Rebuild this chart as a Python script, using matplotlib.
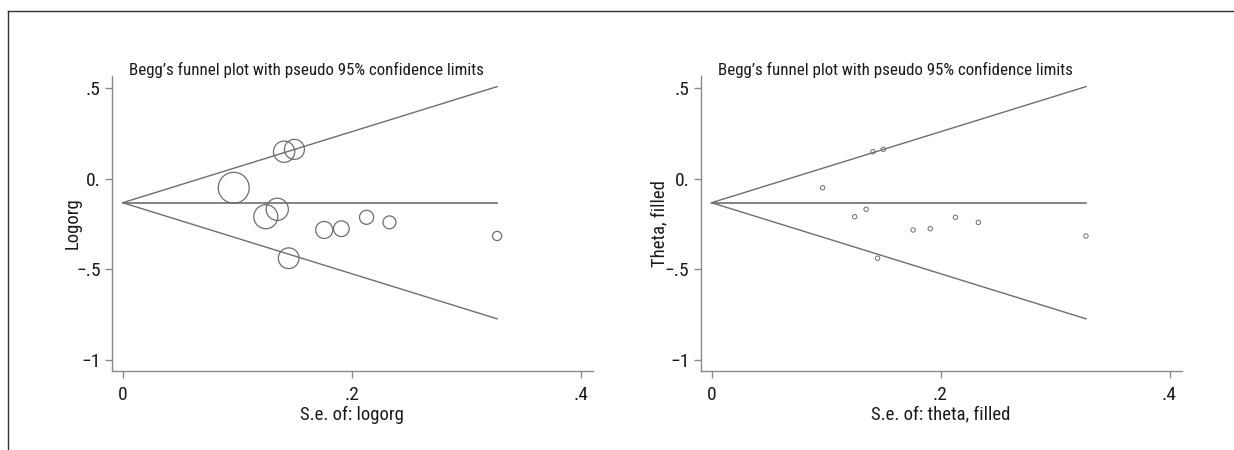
import matplotlib
matplotlib.use("Agg")
import matplotlib.pyplot as plt
from matplotlib.lines import Line2D
from matplotlib import font_manager
import numpy as np

# study-level data
se = [0.141, 0.150, 0.097, 0.135, 0.125, 0.176, 0.191, 0.213, 0.233, 0.145, 0.327]
logor = [0.148, 0.161, -0.051, -0.170, -0.211, -0.284, -0.277, -0.214, -0.242, -0.440, -0.317]
pooled = -0.1335

xticks = [0, 0.2, 0.4]
xticklabels = ["0", ".2", ".4"]
yticks = [0.5, 0, -0.5, -1]
yticklabels = [".5", "0.", "\u2212.5", "\u22121"]

titles = ["Begg\u2019s funnel plot with pseudo 95% confidence limits"] * 2
ylabels = ["Logorg", "Theta, filled"]
xlabels = ["S.e. of: logorg", "S.e. of: theta, filled"]

# pick a narrow face if one is around, else plain Liberation Sans a bit smaller
names = set(f.name for f in font_manager.fontManager.ttflist)
narrow = None
for n in ["Liberation Sans Narrow", "DejaVu Sans Condensed", "Roboto Condensed", "Open Sans Condensed"]:
    if n in names:
        narrow = n
        break
if narrow:
    plt.rcParams["font.family"] = [narrow, "DejaVu Sans"]
    fs_title, fs_lab, fs_tick = 12.2, 13.5, 14
else:
    plt.rcParams["font.family"] = ["Liberation Sans", "DejaVu Sans"]
    fs_title, fs_lab, fs_tick = 10.6, 11, 11.5

fig = plt.figure(figsize=(12.34, 4.5), dpi=100)

linecol = "#6e6e6e"
axcol = "#8a8a8a"
txtcol = "#1a1a1a"

lefts = [0.0905, 0.5677]
ylab_x = [-0.062, -0.066]

for k in range(2):
    ax = fig.add_axes([lefts[k], 0.1762, 0.390, 0.6549])

    se_max = max(se)
    xs = np.array([0, se_max])
    ax.plot(xs, pooled + 1.96 * xs, color=linecol, lw=1.0)
    ax.plot(xs, pooled - 1.96 * xs, color=linecol, lw=1.0)
    ax.plot(xs, [pooled, pooled], color=linecol, lw=1.2)

    if k == 0:
        sizes = [(2.16 / s) ** 2 for s in se]
        ax.scatter(se, logor, s=sizes, facecolors="none", edgecolors=linecol, linewidths=0.9, zorder=3)
    else:
        ax.scatter(se, logor, s=10, facecolors="none", edgecolors=linecol, linewidths=0.7, zorder=3)

    ax.set_xlim(-0.0096, 0.4107)
    ax.set_ylim(-1.061, 0.566)
    ax.set_xticks(xticks)
    ax.set_xticklabels(xticklabels)
    ax.set_yticks(yticks)
    ax.set_yticklabels(yticklabels)

    for sp in ["top", "right"]:
        ax.spines[sp].set_visible(False)
    for sp in ["left", "bottom"]:
        ax.spines[sp].set_color(axcol)
        ax.spines[sp].set_linewidth(1.0)
    ax.tick_params(axis="both", colors=axcol, length=5, width=1.0, labelcolor=txtcol, labelsize=fs_tick)
    ax.tick_params(axis="x", pad=6)
    ax.tick_params(axis="y", pad=3)

    ax.set_xlabel(xlabels[k], color=txtcol, fontsize=fs_lab)
    ax.xaxis.set_label_coords(0.5, -0.118)
    ax.set_ylabel(ylabels[k], color=txtcol, fontsize=fs_lab)
    ax.yaxis.set_label_coords(ylab_x[k], 0.5)

    ax.text(0.4045, 1.002, titles[k], transform=ax.transAxes, ha="center", va="baseline",
            color=txtcol, fontsize=fs_title)

# outer frame lines (left and top)
fig.add_artist(Line2D([8 / 1234, 8 / 1234], [0, 1 - 11 / 450], transform=fig.transFigure, color="#333333", lw=1.0))
fig.add_artist(Line2D([8 / 1234, 1], [1 - 11 / 450, 1 - 11 / 450], transform=fig.transFigure, color="#333333", lw=1.0))

plt.savefig("out.png", dpi=100)
